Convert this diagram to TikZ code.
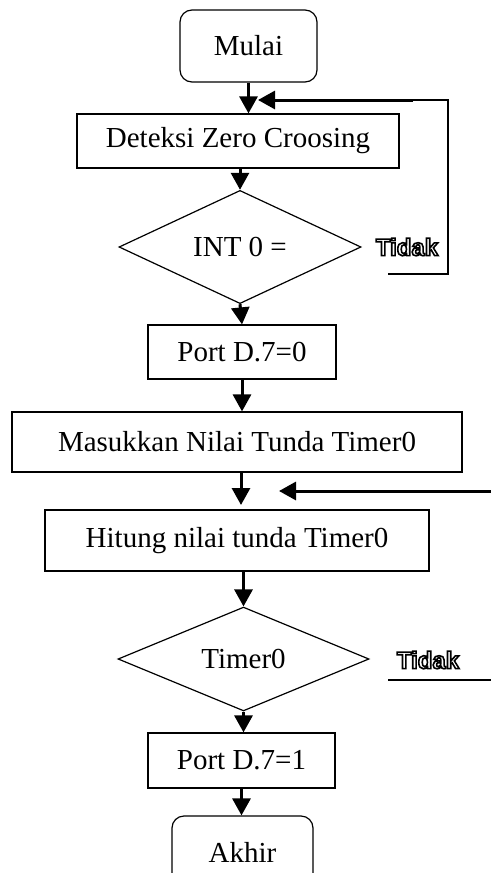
\documentclass[tikz,border=0pt]{standalone}
\usepackage{fontspec}
\setmainfont{Liberation Serif}
\newfontfamily\tidakfont{Liberation Sans}
\usetikzlibrary{shapes.geometric,arrows.meta}

% huruf bergaris tepi (outline)
\newcommand{\garistepi}[1]{\special{pdf:literal 1 Tr 1.6 w}#1\special{pdf:literal 0 Tr}}

\tikzset{
  proses/.style={draw, line width=1.2bp, minimum height=54bp, inner sep=0pt},
  terminal/.style={proses, rounded corners=12bp, minimum height=72bp},
  keputusan/.style={draw, diamond, line width=1.2bp, inner sep=0pt},
  panah/.style={line width=3bp, -{Triangle[width=18bp,length=17bp]}},
  garis/.style={line width=1.2bp},
  tidak/.style={font=\tidakfont\bfseries\fontsize{24bp}{28bp}\selectfont}
}

\begin{document}
\begin{tikzpicture}[x=1bp, y=-1bp, font=\fontsize{29bp}{34bp}\selectfont]
\useasboundingbox (0,0) rectangle (491,873);

\node[terminal, minimum width=137bp] (mulai) at (248.5,46) {Mulai};
\node[proses, minimum width=322bp] (deteksi) at (238,141) {Deteksi Zero Croosing};
\node[keputusan, minimum width=242bp, minimum height=95bp] (int0) at (240,247) {INT 0 =};
\node[tidak] (tidak1) at (407,247) {\garistepi{Tidak}};

\node[proses, minimum width=188bp] (port0) at (242,352) {Port D.7=0};
\node[proses, minimum width=450bp, minimum height=60bp] (masuk) at (237,442) {Masukkan Nilai Tunda Timer0};
\node[proses, minimum width=384bp, minimum height=61bp] (hitung) at (237,540.5) {Hitung nilai tunda Timer0};

\node[keputusan, minimum width=251bp, minimum height=96bp] (timer) at (243.5,659) {Timer0};
\node[tidak] (tidak2) at (428,660) {\garistepi{Tidak}};

\node[proses, minimum width=187bp, minimum height=55bp] (port1) at (241.5,760.5) {Port D.7=1};
\node[terminal, minimum width=141bp] (akhir) at (242.5,852) {Akhir};

% alur utama
\draw[panah] (mulai.south) -- (mulai.south |- deteksi.north);
\draw[panah] (int0.north |- deteksi.south) -- (int0.north);
\draw[panah] (int0.south) -- (port0.north);
\draw[panah] (port0.south) -- (port0.south |- masuk.north);

\coordinate (masukin) at (241,505);
\draw[panah] (masukin |- masuk.south) -- (masukin);
\draw[panah] (timer.north |- hitung.south) -- (timer.north);
\draw[panah] (timer.south) -- (timer.south |- port1.north);
\draw[panah] (port1.south) -- (port1.south |- akhir.north);

% loop tidak INT 0
\coordinate (a1) at (388,274);
\coordinate (a2) at (448,274);
\coordinate (a3) at (448,100);
\coordinate (a4) at (413,100);
\coordinate (a5) at (258,100);
\draw[garis] (a1) -- (a2) -- (a3) -- (a4);
\draw[panah] (a4) -- (a5);

% loop tidak Timer0
\coordinate (b1) at (491,491);
\coordinate (b2) at (279,491);
\draw[panah] (b1) -- (b2);
\coordinate (c1) at (388,680);
\coordinate (c2) at (491,680);
\draw[garis] (c1) -- (c2);

\end{tikzpicture}
\end{document}
